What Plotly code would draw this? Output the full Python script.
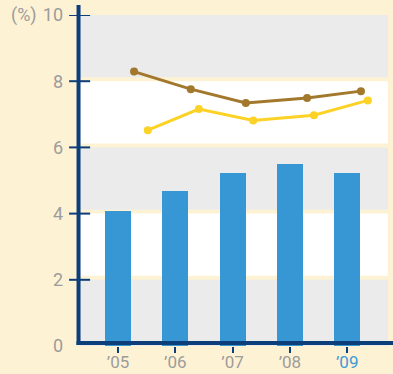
import plotly.graph_objects as go

# Categories and series
years = ["’05", "’06", "’07", "’08", "’09"]
bar_values = [4.08, 4.68, 5.23, 5.50, 5.23]

brown_x = [0.28, 1.27, 2.23, 3.30, 4.24]
brown_values = [8.29, 7.76, 7.34, 7.49, 7.70]

yellow_x = [0.52, 1.41, 2.36, 3.42, 4.36]
yellow_values = [6.52, 7.16, 6.81, 6.97, 7.42]

y_ticks = [0, 2, 4, 6, 8, 10]
highlight_year = "’09"

CREAM = "#fef2d4"
GREY_BAND = "#ebebeb"
WHITE_BAND = "#ffffff"
BAR_BLUE = "#3797d5"
AXIS_BLUE = "#0c3e7a"
BROWN = "#a2782c"
YELLOW = "#fdd226"
TEXT_GREY = "#9c9c9c"
HIGHLIGHT = "#3a9ad9"

x_pos = list(range(len(years)))

fig = go.Figure()

fig.add_trace(go.Bar(
    x=x_pos, y=bar_values, width=0.454,
    marker=dict(color=BAR_BLUE, line=dict(width=0)),
    hoverinfo="skip",
))
fig.add_trace(go.Scatter(
    x=brown_x, y=brown_values, mode="lines+markers",
    line=dict(color=BROWN, width=3),
    marker=dict(color=BROWN, size=8),
))
fig.add_trace(go.Scatter(
    x=yellow_x, y=yellow_values, mode="lines+markers",
    line=dict(color=YELLOW, width=3),
    marker=dict(color=YELLOW, size=8),
))

shapes = []
# alternating background bands with a thin cream gap above each gridline
gap = 0.12
for i in range(len(y_ticks) - 1):
    lo, hi = y_ticks[i], y_ticks[i + 1]
    shapes.append(dict(
        type="rect", xref="paper", yref="y", layer="below",
        x0=0, x1=1, y0=lo + (gap if lo > 0 else 0), y1=hi,
        fillcolor=GREY_BAND if i % 2 == 0 else WHITE_BAND, line=dict(width=0),
    ))

# y tick marks crossing the axis
for v in y_ticks[1:]:
    shapes.append(dict(
        type="line", xref="paper", yref="y", layer="above",
        x0=-0.032, x1=0.036, y0=v, y1=v,
        line=dict(color=AXIS_BLUE, width=2),
    ))

# axis lines
shapes.append(dict(
    type="line", xref="paper", yref="paper", layer="above",
    x0=-0.0015, x1=-0.0015, y0=0.003, y1=1.03,
    line=dict(color=AXIS_BLUE, width=4),
))
shapes.append(dict(
    type="line", xref="paper", yref="paper", layer="above",
    x0=-0.008, x1=1.02, y0=0.009, y1=0.009,
    line=dict(color=AXIS_BLUE, width=4),
))

tick_text = [
    f"<span style='color:{HIGHLIGHT}'>{y}</span>" if y == highlight_year else y
    for y in years
]

fig.update_layout(
    width=393, height=374,
    margin=dict(l=79, r=5, t=15, b=28),
    paper_bgcolor=CREAM, plot_bgcolor=CREAM,
    showlegend=False,
    bargap=0,
    shapes=shapes,
    font=dict(family="Roboto", size=17, color=TEXT_GREY),
    xaxis=dict(
        range=[-0.681, 4.712], tickvals=x_pos, ticktext=tick_text,
        showgrid=False, zeroline=False, showline=False,
        ticks="outside", ticklen=6, tickwidth=2, tickcolor=AXIS_BLUE,
        ticklabelstandoff=-5, automargin=False,
        tickfont=dict(size=17, color=TEXT_GREY),
        fixedrange=True,
    ),
    yaxis=dict(
        range=[0, 10], tickvals=y_ticks,
        showgrid=False, zeroline=False, showline=False,
        ticks="", ticklabelstandoff=15, automargin=False,
        tickfont=dict(size=18, color=TEXT_GREY),
        fixedrange=True,
    ),
    annotations=[dict(
        text="(%)", xref="paper", yref="y", x=-0.128, y=10,
        xanchor="right", yanchor="middle", showarrow=False,
        font=dict(size=18, color=TEXT_GREY),
    )],
)

fig.write_html("out.html")
